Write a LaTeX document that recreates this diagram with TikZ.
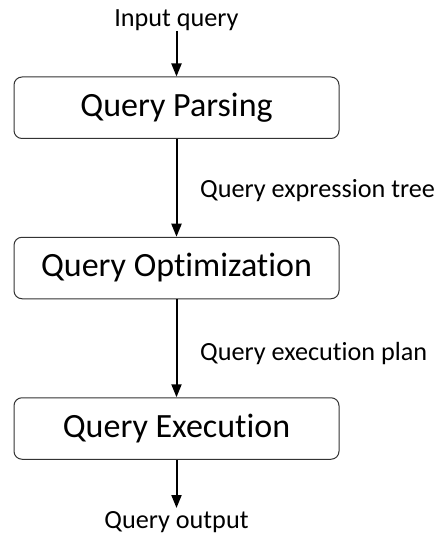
\documentclass[tikz,border=0pt]{standalone}
\usepackage{fontspec}
\setmainfont{Carlito}[Ligatures=NoCommon]
\usetikzlibrary{arrows.meta}
\begin{document}
\begin{tikzpicture}[x=1pt,y=-1pt,
  stage/.style={draw=black!80, line width=1pt, rounded corners=8pt, minimum width=325pt, minimum height=61.5pt, inner sep=0pt, font=\fontsize{34}{40}\selectfont},
  lbl/.style={inner sep=0pt, font=\fontsize{26.2}{30}\selectfont},
  flow/.style={line width=2pt, -{Triangle[length=13pt,width=10pt]}}]
\useasboundingbox (0,0) rectangle (437,534);
\node[stage] (parse) at (176.5,107.75) {Query Parsing};
\node[stage] (opt) at (176.5,268) {Query Optimization};
\node[stage] (exec) at (176.5,428.5) {Query Execution};
\node[lbl, anchor=base] (in) at (176.5,27) {Input query};
\node[lbl, anchor=base] (out) at (176.5,528.5) {Query output};
\node[lbl, anchor=base west] (tree) at (200,198) {Query expression tree};
\node[lbl, anchor=base west] (plan) at (200,360) {Query execution plan};
\coordinate (inend) at (176.5,31);
\coordinate (outend) at (176.5,508);
\draw[flow] (inend) -- (parse.north);
\draw[flow] (parse.south) -- (opt.north);
\draw[flow] (opt.south) -- (exec.north);
\draw[flow] (exec.south) -- (outend);
\end{tikzpicture}
\end{document}
